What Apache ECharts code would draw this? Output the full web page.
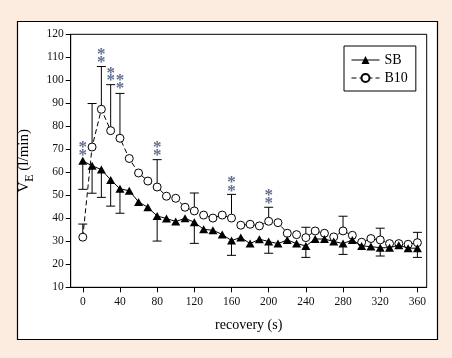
<!DOCTYPE html>
<html>
<head>
<meta charset="utf-8">
<script src="https://cdn.jsdelivr.net/npm/echarts@6/dist/echarts.min.js"></script>
<style>
html,body{margin:0;padding:0;background:#fcebdf;}
#c{width:452px;height:358px;}
</style>
</head>
<body>
<div id="c"></div>
<script>
// ---- data ----
const times = [0,10,20,30,40,50,60,70,80,90,100,110,120,130,140,150,160,170,180,190,200,210,220,230,240,250,260,270,280,290,300,310,320,330,340,350,360];
const sbValues = [65,62.8,61.2,56.7,52.8,52,47.1,44.8,41,39.9,38.6,40,38.3,35.2,34.8,33,30.3,31.7,29,30.9,29.9,29,30.6,29,28,31,31,29.9,29,30.6,28,27.7,27.2,27.2,28.3,27,27];
const b10Values = [31.8,71,87.4,78.1,74.8,66,59.7,56.2,53.6,49.6,48.7,44.8,43.2,41.4,40.1,41.4,40.1,37,37.4,36.7,38.7,38.1,33.5,32.9,31.6,34.5,33.5,31.9,34.5,32.6,29.6,31.2,30.6,29,29,28.7,29.4];
const errTimes = [0,10,20,30,40,80,120,160,200,240,280,320,360];
const sbLower = [52.6,50.9,49.1,45.3,42.2,30.1,29.1,23.9,24.8,23,24.3,23.6,23];
const b10Upper = [37.5,89.9,106,98.1,94.3,65.5,51,50.4,44.8,36.1,40.9,35.7,33.9];
const starTimes = [0,0,20,20,30,30,40,40,80,80,160,160,200,200];
const starValues = [72.6,69,112.7,109.4,104.8,101.6,101.6,98.3,72.6,69,57.1,53.5,51.4,48];
const xTicks = [0,40,80,120,160,200,240,280,320,360];

const FONT = '"Liberation Serif","Times New Roman",serif';

function pairs(xs, ys){ return xs.map((x,i)=>[x, ys[i]]); }

function errItem(){
  return function(params, api){
    const x = api.value(0), m = api.value(1), e = api.value(2);
    const p0 = api.coord([x, m]);
    const p1 = api.coord([x, e]);
    const hw = 4.5;
    return {
      type: 'group',
      children: [
        {type:'line', shape:{x1:p0[0], y1:p0[1], x2:p1[0], y2:p1[1]}, style:{stroke:'#000', lineWidth:1}},
        {type:'line', shape:{x1:p1[0]-hw, y1:p1[1], x2:p1[0]+hw, y2:p1[1]}, style:{stroke:'#000', lineWidth:1}}
      ]
    };
  };
}

const sbMap = {}; times.forEach((t,i)=>sbMap[t]=sbValues[i]);
const b10Map = {}; times.forEach((t,i)=>b10Map[t]=b10Values[i]);

const chart = echarts.init(document.getElementById('c'), null, {renderer:'canvas'});
chart.setOption({
  backgroundColor: '#fcebdf',
  animation: false,
  graphic: [
    {type:'rect', z:-100, shape:{x:17.5, y:21.5, width:420, height:318}, style:{fill:'#fff', stroke:'#000', lineWidth:1.2}}
  ],
  grid: {left:70.7, top:34.3, right:25.3, bottom:70.7, show:true, borderColor:'#000', borderWidth:1, backgroundColor:'transparent'},
  legend: {
    data: ['SB','B10'],
    orient: 'vertical',
    left: 344, top: 46,
    padding: [7,8,6,7],
    itemGap: 4,
    itemWidth: 28, itemHeight: 10,
    borderColor: '#000', borderWidth: 1,
    lineStyle: {width: 1},
    textStyle: {fontFamily: FONT, fontSize: 14, color:'#000'}
  },
  xAxis: {
    type: 'value', min: -13, max: 370,
    name: 'recovery (s)', nameLocation: 'middle', nameGap: 31,
    nameTextStyle: {fontFamily: FONT, fontSize: 14, color:'#000'},
    axisLine: {show:true, onZero:false, lineStyle:{color:'#000', width:1}},
    axisTick: {show:true, customValues: xTicks, length:5, lineStyle:{color:'#000'}},
    axisLabel: {customValues: xTicks, fontFamily: FONT, fontSize: 11.5, color:'#111', margin: 9},
    splitLine: {show:false}
  },
  yAxis: {
    type: 'value', min: 10, max: 120, interval: 10,
    name: '{v|V}{e|E}{v| (l/min)}', nameLocation: 'middle', nameGap: 33, nameRotate: 90,
    nameTextStyle: {
      color:'#000',
      rich: {
        v: {fontFamily: FONT, fontSize: 15, lineHeight: 22, verticalAlign:'middle', color:'#000'},
        e: {fontFamily: FONT, fontSize: 12, lineHeight: 12, verticalAlign:'bottom', color:'#000'}
      }
    },
    axisLine: {show:true, onZero:false, lineStyle:{color:'#000', width:1}},
    axisTick: {show:true, length:5, lineStyle:{color:'#000'}},
    axisLabel: {fontFamily: FONT, fontSize: 11.5, color:'#111', margin: 7},
    splitLine: {show:false}
  },
  series: [
    {
      name: 'SBerr', type: 'custom', z: 1,
      renderItem: errItem(),
      data: errTimes.map((t,i)=>[t, sbMap[t], sbLower[i]]),
      silent: true
    },
    {
      name: 'B10err', type: 'custom', z: 1,
      renderItem: errItem(),
      data: errTimes.map((t,i)=>[t, b10Map[t], b10Upper[i]]),
      silent: true
    },
    {
      name: 'B10', type: 'line', z: 3,
      data: pairs(times, b10Values),
      symbol: 'circle', symbolSize: 8,
      lineStyle: {color:'#000', width:1, type:[5,3]},
      itemStyle: {color:'#fff', borderColor:'#000', borderWidth:1},
      showAllSymbol: true
    },
    {
      name: 'SB', type: 'line', z: 4,
      data: pairs(times, sbValues),
      symbol: 'triangle', symbolSize: [9,8],
      lineStyle: {color:'#000', width:1},
      itemStyle: {color:'#000', borderColor:'#000', borderWidth:0},
      showAllSymbol: true
    },
    {
      name: 'stars', type: 'custom', z: 5, silent: true,
      renderItem: function(params, api){
        const p = api.coord([api.value(0), api.value(1)]);
        return {type:'text', x:p[0], y:p[1]+4, style:{text:'*', fontFamily: FONT, fontSize: 17, fontWeight:'bold', fill:'#5f6f90', align:'center', verticalAlign:'middle'}};
      },
      data: pairs(starTimes, starValues)
    }
  ]
});
</script>
</body>
</html>
